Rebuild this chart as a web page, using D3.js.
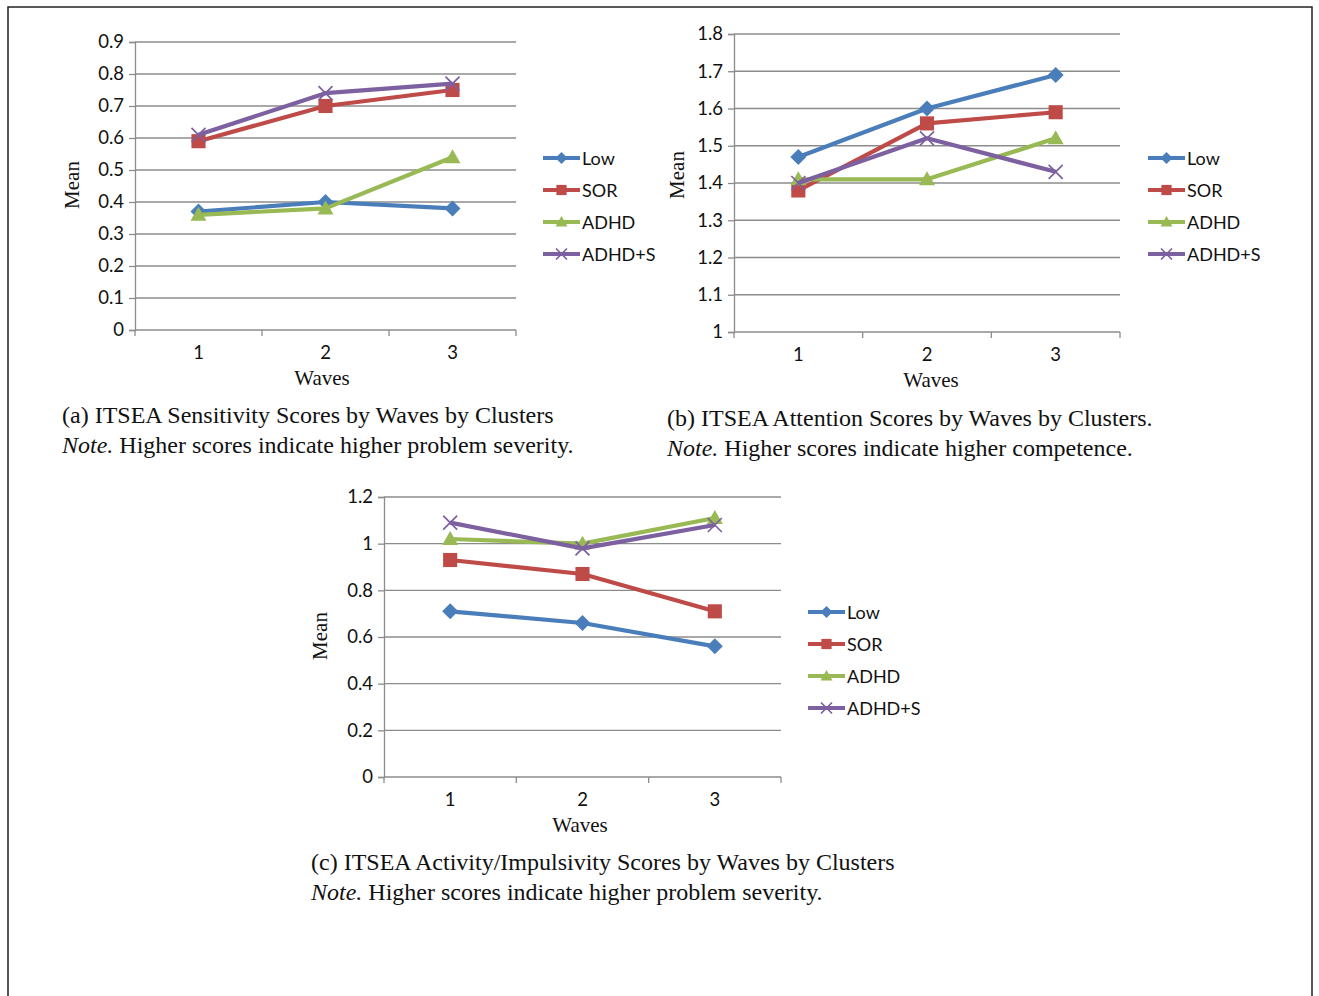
<!DOCTYPE html>
<html><head><meta charset="utf-8">
<script src="https://cdn.jsdelivr.net/npm/d3@7"></script>
<style>body{margin:0;background:#fff;} svg{display:block;}</style>
</head><body>
<svg id="c" width="1319" height="996"></svg>
<script>
const waves = ["1","2","3"];
const seriesNames = ["Low","SOR","ADHD","ADHD+S"];
const colors = ["#4A7EBB","#BE4B48","#98B954","#7D60A0"];
const markers = ["diamond","square","triangle","x"];

// (a) Sensitivity
const aLow = [0.37,0.40,0.38];
const aSOR = [0.59,0.70,0.75];
const aADHD = [0.36,0.38,0.54];
const aADHDS = [0.61,0.74,0.77];
const aTicks = [0,0.1,0.2,0.3,0.4,0.5,0.6,0.7,0.8,0.9];
// (b) Attention
const bLow = [1.47,1.60,1.69];
const bSOR = [1.38,1.56,1.59];
const bADHD = [1.41,1.41,1.52];
const bADHDS = [1.40,1.52,1.43];
const bTicks = [1,1.1,1.2,1.3,1.4,1.5,1.6,1.7,1.8];
// (c) Activity/Impulsivity
const cLow = [0.71,0.66,0.56];
const cSOR = [0.93,0.87,0.71];
const cADHD = [1.02,1.00,1.11];
const cADHDS = [1.09,0.98,1.08];
const cTicks = [0,0.2,0.4,0.6,0.8,1,1.2];

const captionA = ["(a) ITSEA Sensitivity Scores by Waves by Clusters","Higher scores indicate higher problem severity."];
const captionB = ["(b) ITSEA Attention Scores by Waves by Clusters.","Higher scores indicate higher competence."];
const captionC = ["(c) ITSEA Activity/Impulsivity Scores by Waves by Clusters","Higher scores indicate higher problem severity."];

const svg = d3.select("#c");
svg.append("rect").attr("x",8).attr("y",7).attr("width",1304).attr("height",1100)
  .attr("fill","none").attr("stroke","#222").attr("stroke-width",1.5);

const sans = "Lato, 'Open Sans', sans-serif";
const serif = "'Liberation Serif', 'DejaVu Serif', serif";

function marker(g, type, x, y, color, s){
  if(type==="diamond"){
    g.append("path").attr("d",`M${x},${y-s}L${x+s},${y}L${x},${y+s}L${x-s},${y}Z`).attr("fill",color);
  } else if(type==="square"){
    g.append("rect").attr("x",x-s*0.85).attr("y",y-s*0.85).attr("width",s*1.7).attr("height",s*1.7).attr("fill",color);
  } else if(type==="triangle"){
    g.append("path").attr("d",`M${x},${y-s}L${x+s},${y+s*0.75}L${x-s},${y+s*0.75}Z`).attr("fill",color);
  } else {
    g.append("path").attr("d",`M${x-s},${y-s}L${x+s},${y+s}M${x+s},${y-s}L${x-s},${y+s}`).attr("stroke",color).attr("stroke-width",1.7).attr("fill","none");
  }
}

function panel(cfg){
  const g = svg.append("g");
  const x = d3.scaleBand().domain(waves).range([cfg.left,cfg.right]).padding(0);
  const y = d3.scaleLinear().domain([cfg.ticks[0],cfg.ticks[cfg.ticks.length-1]]).range([cfg.bottom,cfg.top]);
  g.selectAll(null).data(cfg.ticks.slice(1)).enter().append("line")
    .attr("x1",cfg.left).attr("x2",cfg.right).attr("y1",d=>y(d)).attr("y2",d=>y(d))
    .attr("stroke","#8c8c8c").attr("stroke-width",1.3);
  const ya = g.append("g").attr("transform",`translate(${cfg.left},0)`)
    .call(d3.axisLeft(y).tickValues(cfg.ticks).tickSize(6).tickPadding(5).tickFormat(d=>String(+d.toFixed(2))));
  ya.select(".domain").attr("stroke","#8c8c8c").attr("stroke-width",1.3);
  ya.selectAll(".tick line").attr("stroke","#8c8c8c").attr("stroke-width",1.3);
  ya.selectAll("text").attr("font-family",sans).attr("font-size",18.5).attr("fill","#111");
  const bounds = waves.map(w=>x(w)).concat([cfg.right]);
  g.append("line").attr("x1",cfg.left).attr("x2",cfg.right).attr("y1",cfg.bottom).attr("y2",cfg.bottom)
    .attr("stroke","#8c8c8c").attr("stroke-width",1.3);
  g.selectAll(null).data(bounds).enter().append("line")
    .attr("x1",d=>d).attr("x2",d=>d).attr("y1",cfg.bottom).attr("y2",cfg.bottom+6)
    .attr("stroke","#8c8c8c").attr("stroke-width",1.3);
  g.selectAll(null).data(waves).enter().append("text")
    .attr("x",d=>x(d)+x.bandwidth()/2).attr("y",cfg.bottom+29)
    .attr("text-anchor","middle").attr("font-family",sans).attr("font-size",18.5).attr("fill","#111").text(d=>d);
  g.append("text").attr("x",cfg.wavesX).attr("y",cfg.bottom+55).attr("text-anchor","middle")
    .attr("font-family",serif).attr("font-size",21).attr("fill","#111").text("Waves");
  g.append("text").attr("transform",`translate(${cfg.meanX},${cfg.meanY}) rotate(-90)`)
    .attr("text-anchor","middle").attr("font-family",serif).attr("font-size",21).attr("fill","#111").text("Mean");
  const line = d3.line().x((d,i)=>x(waves[i])+x.bandwidth()/2).y(d=>y(d));
  cfg.series.forEach((vals,si)=>{
    g.append("path").attr("d",line(vals)).attr("fill","none").attr("stroke",colors[si]).attr("stroke-width",4.2).attr("stroke-linejoin","round");
    vals.forEach((v,i)=>marker(g,markers[si],x(waves[i])+x.bandwidth()/2,y(v),colors[si],[8,8.3,8,7][si]));
  });
  seriesNames.forEach((n,i)=>{
    const ly = cfg.legY + i*32;
    g.append("line").attr("x1",cfg.legX).attr("x2",cfg.legX+37).attr("y1",ly).attr("y2",ly)
      .attr("stroke",colors[i]).attr("stroke-width",3.8);
    marker(g,markers[i],cfg.legX+18.5,ly,colors[i],[6,6,6,5.5][i]);
    g.append("text").attr("x",cfg.legX+39).attr("y",ly+6.5).attr("font-family",sans).attr("font-size",18)
      .attr("fill","#111").text(n);
  });
  g.append("text").attr("x",cfg.capX).attr("y",cfg.capY).attr("font-family",serif).attr("font-size",24).attr("fill","#111").text(cfg.caption[0]);
  const t2 = g.append("text").attr("x",cfg.capX).attr("y",cfg.capY+30).attr("font-family",serif).attr("font-size",24).attr("fill","#111");
  t2.append("tspan").attr("font-style","italic").text("Note.");
  t2.append("tspan").text(" "+cfg.caption[1]);
}

panel({left:135,right:516,top:42,bottom:330,ticks:aTicks,series:[aLow,aSOR,aADHD,aADHDS],
  meanX:79,meanY:185,wavesX:322,legX:543,legY:158,capX:62,capY:423,caption:captionA});
panel({left:734,right:1120,top:34,bottom:332,ticks:bTicks,series:[bLow,bSOR,bADHD,bADHDS],
  meanX:684,meanY:175,wavesX:931,legX:1148,legY:158,capX:667,capY:426,caption:captionB});
panel({left:384,right:781,top:497,bottom:777,ticks:cTicks,series:[cLow,cSOR,cADHD,cADHDS],
  meanX:327,meanY:636,wavesX:580,legX:808,legY:612,capX:311,capY:870,caption:captionC});
</script>
</body></html>
